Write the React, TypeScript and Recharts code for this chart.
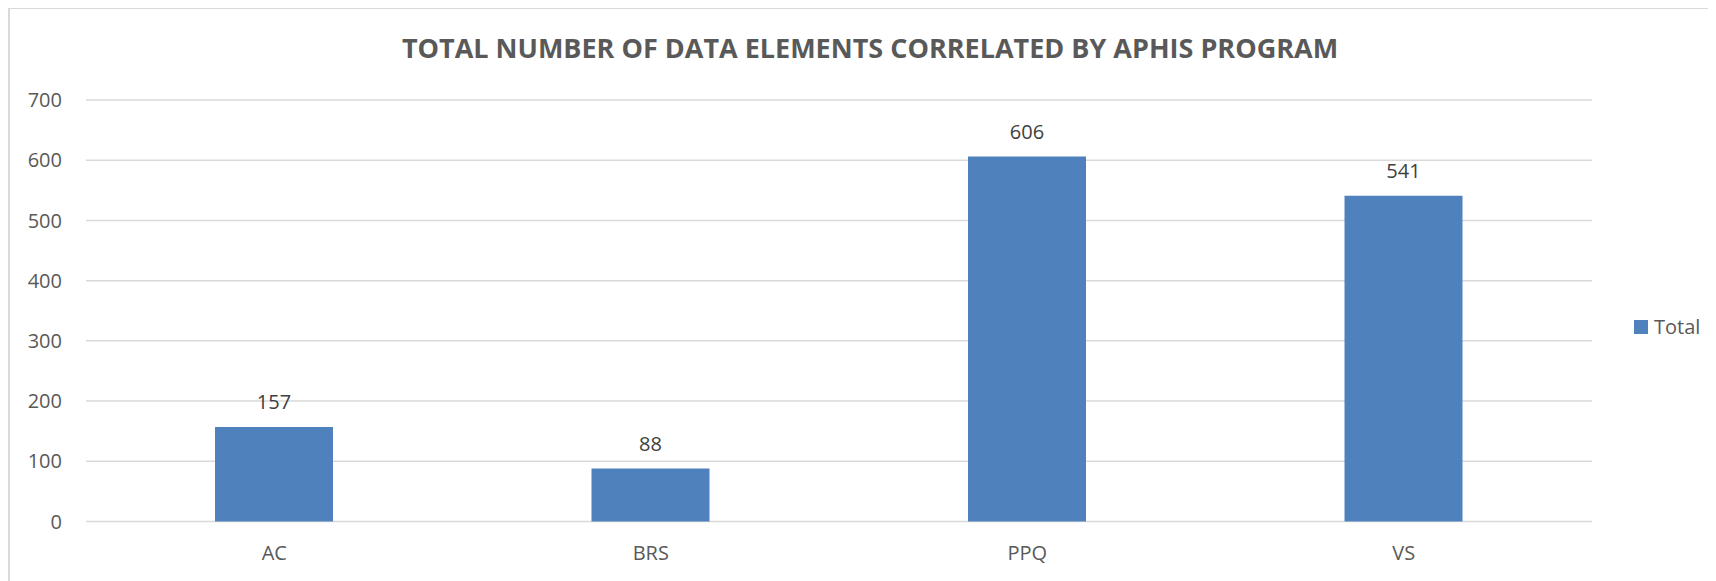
import { BarChart, Bar, XAxis, YAxis, CartesianGrid, Legend, LabelList } from 'recharts';

const programs = ['AC', 'BRS', 'PPQ', 'VS'];
const totals = [157, 88, 606, 541];
const yTicks = [0, 100, 200, 300, 400, 500, 600, 700];

const data = programs.map((program, i) => ({ program, Total: totals[i] }));

const FONT = '"Open Sans", "DejaVu Sans", sans-serif';
const BAR_COLOR = '#4F81BD';

function LegendBox() {
  return (
    <div style={{ display: 'flex', alignItems: 'center', height: 26, fontFamily: FONT, fontSize: 20, color: '#595959', lineHeight: '26px' }}>
      <span style={{ display: 'inline-block', width: 14, height: 14, background: BAR_COLOR, marginRight: 6 }} />
      <span>Total</span>
    </div>
  );
}

export default function App() {
  return (
    <div style={{ position: 'relative', width: 1708, height: 573, overflow: 'hidden' }}>
      {/* frame: only left and top edges are visible in the crop */}
      <div
        style={{
          position: 'absolute',
          left: 0,
          top: -1,
          width: 1720,
          height: 600,
          borderLeft: '2px solid #D9D9D9',
          borderTop: '2px solid #D9D9D9',
          boxSizing: 'border-box',
        }}
      />
      <svg width={1708} height={80} style={{ position: 'absolute', left: 0, top: 0 }}>
        <text x={862} y={50} textAnchor="middle" fontFamily={FONT} fontWeight={700} fontSize={27} fill="#595959">
          TOTAL NUMBER OF DATA ELEMENTS CORRELATED BY APHIS PROGRAM
        </text>
      </svg>
      <BarChart width={1708} height={573} data={data} margin={{ top: 92, right: 124, left: 0, bottom: 0 }}>
        <CartesianGrid vertical={false} stroke="#D9D9D9" strokeWidth={1.5} />
        <XAxis
          dataKey="program"
          height={59.5}
          axisLine={false}
          tickLine={false}
          tickSize={0}
          tickMargin={24}
          tick={{ fill: '#595959', fontSize: 20, fontFamily: FONT }}
        />
        <YAxis
          width={78}
          domain={[0, 700]}
          ticks={yTicks}
          axisLine={false}
          tickLine={false}
          tickSize={0}
          tickMargin={24}
          tick={{ fill: '#595959', fontSize: 20, fontFamily: FONT }}
        />
        <Legend
          layout="horizontal"
          align="center"
          verticalAlign="middle"
          wrapperStyle={{ left: 1626, top: 306, width: 'auto' }}
          content={() => <LegendBox />}
        />
        <Bar dataKey="Total" fill={BAR_COLOR} barSize={118} isAnimationActive={false}>
          <LabelList dataKey="Total" position="top" offset={18} fill="#404040" fontSize={20} fontFamily={FONT} />
        </Bar>
      </BarChart>
    </div>
  );
}
